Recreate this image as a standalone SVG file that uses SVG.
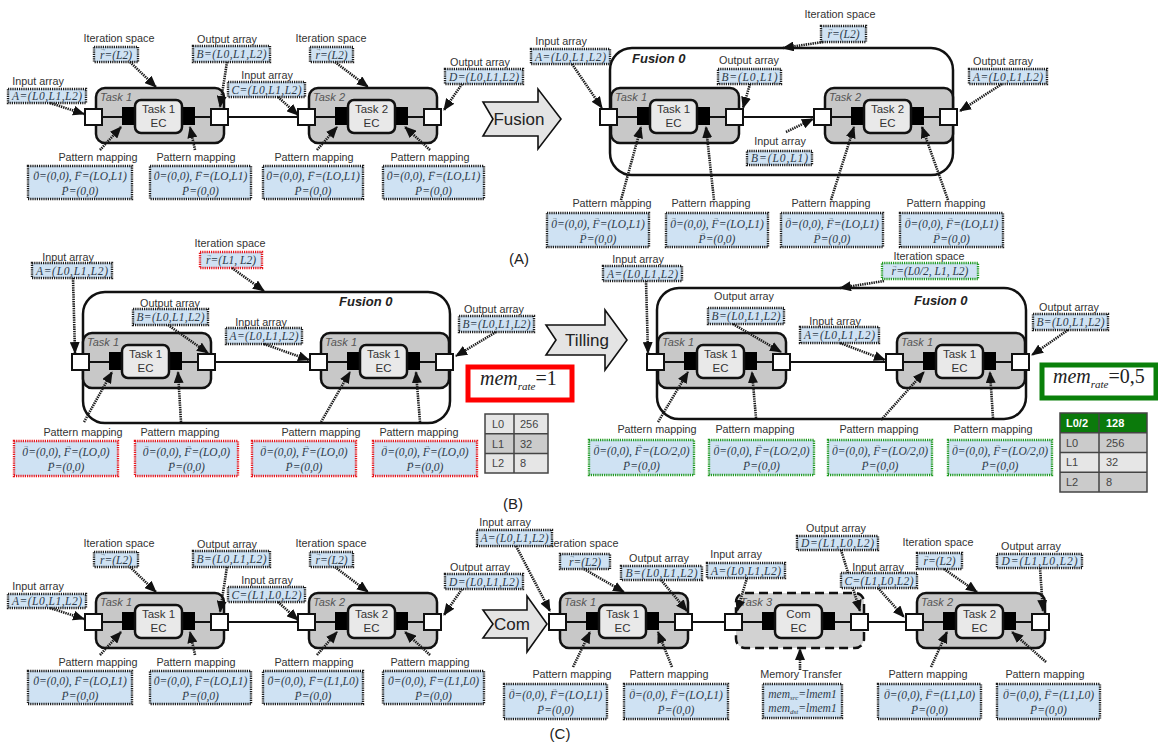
<svg xmlns="http://www.w3.org/2000/svg" width="1158" height="747" viewBox="0 0 1158 747">
<defs>
<marker id="ah" viewBox="0 0 12 10" refX="11" refY="5" markerWidth="12" markerHeight="10" markerUnits="userSpaceOnUse" orient="auto"><path d="M0,0L12,5L0,10z" fill="#111"/></marker>
<style>
.cap{font-family:"Liberation Sans",Arial,sans-serif;font-size:10.8px;fill:#333;text-anchor:middle}
.mt{font-family:"Liberation Serif","DejaVu Serif",serif;font-style:italic;font-size:11.5px;fill:#2e3b4a;text-anchor:middle}
.va{font-size:6px;font-style:normal}
.lb{fill:#cfe2f3;stroke:#1c1c1c;stroke-width:2.4;stroke-dasharray:1.2 1}
.lbr{fill:#cfe2f3;stroke:#e8141a;stroke-width:2.4;stroke-dasharray:1.2 1}
.lbg{fill:#cfe2f3;stroke:#1f9a1f;stroke-width:2.4;stroke-dasharray:1.2 1}
.tb{fill:#c8c8c8;stroke:#111;stroke-width:2.5}
.tbd{fill:#d2d2d2;stroke:#111;stroke-width:2.5;stroke-dasharray:9 5}
.ec{fill:#e9e9e9;stroke:#111;stroke-width:2.5}
.bk{fill:#000}
.pt{fill:#fff;stroke:#111;stroke-width:2}
.tl{stroke:#111;stroke-width:2}
.tt{font-family:"Liberation Sans",Arial,sans-serif;font-style:italic;font-size:11px;fill:#555}
.et{font-family:"Liberation Sans",Arial,sans-serif;font-size:11.5px;fill:#333;text-anchor:middle}
.fu{fill:#fff;stroke:#111;stroke-width:2.5}
.ft{font-family:"Liberation Sans",Arial,sans-serif;font-weight:bold;font-style:italic;font-size:13px;fill:#222}
.ba{fill:#e4e4e4;stroke:#111;stroke-width:1.6}
.bt{font-family:"Liberation Sans",Arial,sans-serif;font-size:17px;fill:#222;text-anchor:middle}
.wire{stroke:#111;stroke-width:2;fill:none}
.cn{fill:none;stroke:#1a1a1a;stroke-width:2.6;stroke-dasharray:1.4 0.9;marker-end:url(#ah)}
.sec{font-family:"Liberation Sans",Arial,sans-serif;font-size:15px;fill:#222;text-anchor:middle}
.tbt{font-family:"Liberation Sans",Arial,sans-serif;font-size:11px;fill:#444}
.tbh{font-family:"Liberation Sans",Arial,sans-serif;font-size:11px;fill:#fff;font-weight:bold}
.mr{font-family:"Liberation Serif","DejaVu Serif",serif;font-size:20px;fill:#222}
</style>
</defs>
<rect width="1158" height="747" fill="#fff"/>

<!-- Fusion containers -->
<g id="ar-fusion"><rect class="fu" x="610" y="48" width="343" height="127" rx="22"/><text class="ft" x="632" y="63">Fusion 0</text></g>
<g id="bl-fusion"><rect class="fu" x="83" y="292" width="367" height="131" rx="22"/><text class="ft" x="339" y="306">Fusion 0</text></g>
<g id="br-fusion"><rect class="fu" x="657" y="288" width="369" height="131" rx="22"/><text class="ft" x="914" y="305">Fusion 0</text></g>

<!-- Block arrows -->
<g id="arrow-fusion"><polygon class="ba" points="483,102 538,102 538,89 561,119 538,149 538,136 483,136 493,119"/><text class="bt" x="519" y="125">Fusion</text></g>
<g id="arrow-tilling"><polygon class="ba" points="546,325 605,325 605,310 627,340 605,370 605,355 546,355 556,340"/><text class="bt" x="587" y="346">Tilling</text></g>
<g id="arrow-com"><polygon class="ba" points="483,610 527,610 527,596 547,624 527,652 527,638 483,638 493,624"/><text class="bt" x="512" y="630">Com</text></g>

<!-- Task nodes -->
<g id="al-task1" transform="translate(96,88)"><rect class="tb" width="128" height="55" rx="9"/><text class="tt" x="4" y="13">Task 1</text><line class="tl" x1="0" y1="29" x2="124" y2="29"/><rect class="bk" x="26" y="19" width="13" height="18"/><rect class="bk" x="86" y="19" width="13" height="18"/><rect class="ec" x="39" y="12" width="47" height="33" rx="6"/><text class="et" x="62.5" y="25">Task 1</text><text class="et" x="62.5" y="39">EC</text><rect class="pt" x="-11" y="21" width="17" height="16"/><rect class="pt" x="115" y="21" width="17" height="16"/></g>
<g id="al-task2" transform="translate(309,88)"><rect class="tb" width="128" height="55" rx="9"/><text class="tt" x="4" y="13">Task 2</text><line class="tl" x1="0" y1="29" x2="124" y2="29"/><rect class="bk" x="26" y="19" width="13" height="18"/><rect class="bk" x="86" y="19" width="13" height="18"/><rect class="ec" x="39" y="12" width="47" height="33" rx="6"/><text class="et" x="62.5" y="25">Task 2</text><text class="et" x="62.5" y="39">EC</text><rect class="pt" x="-11" y="21" width="17" height="16"/><rect class="pt" x="115" y="21" width="17" height="16"/></g>
<g id="ar-task1" transform="translate(611,88)"><rect class="tb" width="128" height="55" rx="9"/><text class="tt" x="4" y="13">Task 1</text><line class="tl" x1="0" y1="29" x2="124" y2="29"/><rect class="bk" x="26" y="19" width="13" height="18"/><rect class="bk" x="86" y="19" width="13" height="18"/><rect class="ec" x="39" y="12" width="47" height="33" rx="6"/><text class="et" x="62.5" y="25">Task 1</text><text class="et" x="62.5" y="39">EC</text><rect class="pt" x="-11" y="21" width="17" height="16"/><rect class="pt" x="115" y="21" width="17" height="16"/></g>
<g id="ar-task2" transform="translate(825,88)"><rect class="tb" width="128" height="55" rx="9"/><text class="tt" x="4" y="13">Task 2</text><line class="tl" x1="0" y1="29" x2="124" y2="29"/><rect class="bk" x="26" y="19" width="13" height="18"/><rect class="bk" x="86" y="19" width="13" height="18"/><rect class="ec" x="39" y="12" width="47" height="33" rx="6"/><text class="et" x="62.5" y="25">Task 2</text><text class="et" x="62.5" y="39">EC</text><rect class="pt" x="-11" y="21" width="17" height="16"/><rect class="pt" x="115" y="21" width="17" height="16"/></g>
<g id="bl-task1a" transform="translate(83,333)"><rect class="tb" width="128" height="55" rx="9"/><text class="tt" x="4" y="13">Task 1</text><line class="tl" x1="0" y1="29" x2="124" y2="29"/><rect class="bk" x="26" y="19" width="13" height="18"/><rect class="bk" x="86" y="19" width="13" height="18"/><rect class="ec" x="39" y="12" width="47" height="33" rx="6"/><text class="et" x="62.5" y="25">Task 1</text><text class="et" x="62.5" y="39">EC</text><rect class="pt" x="-11" y="21" width="17" height="16"/><rect class="pt" x="115" y="21" width="17" height="16"/></g>
<g id="bl-task1b" transform="translate(321,333)"><rect class="tb" width="128" height="55" rx="9"/><text class="tt" x="4" y="13">Task 1</text><line class="tl" x1="0" y1="29" x2="124" y2="29"/><rect class="bk" x="26" y="19" width="13" height="18"/><rect class="bk" x="86" y="19" width="13" height="18"/><rect class="ec" x="39" y="12" width="47" height="33" rx="6"/><text class="et" x="62.5" y="25">Task 1</text><text class="et" x="62.5" y="39">EC</text><rect class="pt" x="-11" y="21" width="17" height="16"/><rect class="pt" x="115" y="21" width="17" height="16"/></g>
<g id="br-task1a" transform="translate(658,333)"><rect class="tb" width="128" height="55" rx="9"/><text class="tt" x="4" y="13">Task 1</text><line class="tl" x1="0" y1="29" x2="124" y2="29"/><rect class="bk" x="26" y="19" width="13" height="18"/><rect class="bk" x="86" y="19" width="13" height="18"/><rect class="ec" x="39" y="12" width="47" height="33" rx="6"/><text class="et" x="62.5" y="25">Task 1</text><text class="et" x="62.5" y="39">EC</text><rect class="pt" x="-11" y="21" width="17" height="16"/><rect class="pt" x="115" y="21" width="17" height="16"/></g>
<g id="br-task1b" transform="translate(897,333)"><rect class="tb" width="128" height="55" rx="9"/><text class="tt" x="4" y="13">Task 1</text><line class="tl" x1="0" y1="29" x2="124" y2="29"/><rect class="bk" x="26" y="19" width="13" height="18"/><rect class="bk" x="86" y="19" width="13" height="18"/><rect class="ec" x="39" y="12" width="47" height="33" rx="6"/><text class="et" x="62.5" y="25">Task 1</text><text class="et" x="62.5" y="39">EC</text><rect class="pt" x="-11" y="21" width="17" height="16"/><rect class="pt" x="115" y="21" width="17" height="16"/></g>
<g id="cl-task1" transform="translate(96,593)"><rect class="tb" width="128" height="55" rx="9"/><text class="tt" x="4" y="13">Task 1</text><line class="tl" x1="0" y1="29" x2="124" y2="29"/><rect class="bk" x="26" y="19" width="13" height="18"/><rect class="bk" x="86" y="19" width="13" height="18"/><rect class="ec" x="39" y="12" width="47" height="33" rx="6"/><text class="et" x="62.5" y="25">Task 1</text><text class="et" x="62.5" y="39">EC</text><rect class="pt" x="-11" y="21" width="17" height="16"/><rect class="pt" x="115" y="21" width="17" height="16"/></g>
<g id="cl-task2" transform="translate(309,593)"><rect class="tb" width="128" height="55" rx="9"/><text class="tt" x="4" y="13">Task 2</text><line class="tl" x1="0" y1="29" x2="124" y2="29"/><rect class="bk" x="26" y="19" width="13" height="18"/><rect class="bk" x="86" y="19" width="13" height="18"/><rect class="ec" x="39" y="12" width="47" height="33" rx="6"/><text class="et" x="62.5" y="25">Task 2</text><text class="et" x="62.5" y="39">EC</text><rect class="pt" x="-11" y="21" width="17" height="16"/><rect class="pt" x="115" y="21" width="17" height="16"/></g>
<g id="cr-task1" transform="translate(560,593)"><rect class="tb" width="128" height="55" rx="9"/><text class="tt" x="4" y="13">Task 1</text><line class="tl" x1="0" y1="29" x2="124" y2="29"/><rect class="bk" x="26" y="19" width="13" height="18"/><rect class="bk" x="86" y="19" width="13" height="18"/><rect class="ec" x="39" y="12" width="47" height="33" rx="6"/><text class="et" x="62.5" y="25">Task 1</text><text class="et" x="62.5" y="39">EC</text><rect class="pt" x="-11" y="21" width="17" height="16"/><rect class="pt" x="115" y="21" width="17" height="16"/></g>
<g id="cr-task3" transform="translate(736,593)"><rect class="tbd" width="128" height="55" rx="9"/><text class="tt" x="4" y="13">Task 3</text><line class="tl" x1="0" y1="29" x2="124" y2="29"/><rect class="bk" x="26" y="19" width="13" height="18"/><rect class="bk" x="86" y="19" width="13" height="18"/><rect class="ec" x="39" y="12" width="47" height="33" rx="6"/><text class="et" x="62.5" y="25">Com</text><text class="et" x="62.5" y="39">EC</text><rect class="pt" x="-11" y="21" width="17" height="16"/><rect class="pt" x="115" y="21" width="17" height="16"/></g>
<g id="cr-task2" transform="translate(917,593)"><rect class="tb" width="128" height="55" rx="9"/><text class="tt" x="4" y="13">Task 2</text><line class="tl" x1="0" y1="29" x2="124" y2="29"/><rect class="bk" x="26" y="19" width="13" height="18"/><rect class="bk" x="86" y="19" width="13" height="18"/><rect class="ec" x="39" y="12" width="47" height="33" rx="6"/><text class="et" x="62.5" y="25">Task 2</text><text class="et" x="62.5" y="39">EC</text><rect class="pt" x="-11" y="21" width="17" height="16"/><rect class="pt" x="115" y="21" width="17" height="16"/></g>

<!-- Labels A-left -->
<g id="al-in-a"><text class="cap" x="38" y="85">Input array</text><rect class="lb" x="8" y="89" width="78" height="14"/><text class="mt" x="47" y="100" textLength="70">A=(L0,L1,L2)</text></g>
<g id="al-it1"><text class="cap" x="119" y="42">Iteration space</text><rect class="lb" x="94" y="47" width="44" height="15"/><text class="mt" x="116" y="58.5">r<tspan class="va" dx="-4.2" dy="-7.5">→</tspan><tspan dx="-1.7" dy="7.5">=(L2)</tspan></text></g>
<g id="al-out-b"><text class="cap" x="227" y="43">Output array</text><rect class="lb" x="193" y="46" width="77" height="16"/><text class="mt" x="231.5" y="58" textLength="70">B=(L0,L1,L2)</text></g>
<g id="al-in-c"><text class="cap" x="267" y="79">Input array</text><rect class="lb" x="228" y="82" width="77" height="15"/><text class="mt" x="266.5" y="93.5" textLength="70">C=(L0,L1,L2)</text></g>
<g id="al-it2"><text class="cap" x="331" y="42">Iteration space</text><rect class="lb" x="310" y="47" width="43" height="15"/><text class="mt" x="331.5" y="58.5">r<tspan class="va" dx="-4.2" dy="-7.5">→</tspan><tspan dx="-1.7" dy="7.5">=(L2)</tspan></text></g>
<g id="al-out-d"><text class="cap" x="480" y="66">Output array</text><rect class="lb" x="445" y="69" width="78" height="15"/><text class="mt" x="484" y="80.5" textLength="70">D=(L0,L1,L2)</text></g>
<g id="al-pm1"><text class="cap" x="98" y="161">Pattern mapping</text><rect class="lb" x="28" y="166" width="104" height="33"/><text class="mt" x="80" y="180">0<tspan class="va" dx="-4.8" dy="-7.5">→</tspan><tspan dx="-1.1" dy="7.5">=(0,0), F</tspan><tspan class="va" dx="-5.4" dy="-7.5">→</tspan><tspan dx="-0.5" dy="7.5">=(LO,L1)</tspan></text><text class="mt" x="80" y="195">P<tspan class="va" dx="-5.4" dy="-7.5">→</tspan><tspan dx="-0.5" dy="7.5">=(0,0)</tspan></text></g>
<g id="al-pm2"><text class="cap" x="196" y="161">Pattern mapping</text><rect class="lb" x="150" y="166" width="101" height="33"/><text class="mt" x="200.5" y="180">0<tspan class="va" dx="-4.8" dy="-7.5">→</tspan><tspan dx="-1.1" dy="7.5">=(0,0), F</tspan><tspan class="va" dx="-5.4" dy="-7.5">→</tspan><tspan dx="-0.5" dy="7.5">=(LO,L1)</tspan></text><text class="mt" x="200.5" y="195">P<tspan class="va" dx="-5.4" dy="-7.5">→</tspan><tspan dx="-0.5" dy="7.5">=(0,0)</tspan></text></g>
<g id="al-pm3"><text class="cap" x="314" y="161">Pattern mapping</text><rect class="lb" x="263" y="166" width="100" height="33"/><text class="mt" x="313" y="180">0<tspan class="va" dx="-4.8" dy="-7.5">→</tspan><tspan dx="-1.1" dy="7.5">=(0,0), F</tspan><tspan class="va" dx="-5.4" dy="-7.5">→</tspan><tspan dx="-0.5" dy="7.5">=(LO,L1)</tspan></text><text class="mt" x="313" y="195">P<tspan class="va" dx="-5.4" dy="-7.5">→</tspan><tspan dx="-0.5" dy="7.5">=(0,0)</tspan></text></g>
<g id="al-pm4"><text class="cap" x="430" y="161">Pattern mapping</text><rect class="lb" x="383" y="166" width="101" height="33"/><text class="mt" x="433.5" y="180">0<tspan class="va" dx="-4.8" dy="-7.5">→</tspan><tspan dx="-1.1" dy="7.5">=(0,0), F</tspan><tspan class="va" dx="-5.4" dy="-7.5">→</tspan><tspan dx="-0.5" dy="7.5">=(LO,L1)</tspan></text><text class="mt" x="433.5" y="195">P<tspan class="va" dx="-5.4" dy="-7.5">→</tspan><tspan dx="-0.5" dy="7.5">=(0,0)</tspan></text></g>

<!-- Labels A-right -->
<g id="ar-it"><text class="cap" x="840" y="18">Iteration space</text><rect class="lb" x="821" y="26" width="45" height="16"/><text class="mt" x="843.5" y="38">r<tspan class="va" dx="-4.2" dy="-7.5">→</tspan><tspan dx="-1.7" dy="7.5">=(L2)</tspan></text></g>
<g id="ar-in-a"><text class="cap" x="561" y="45">Input array</text><rect class="lb" x="531" y="49" width="79" height="15"/><text class="mt" x="570.5" y="60.5" textLength="71">A=(L0,L1,L2)</text></g>
<g id="ar-out-b"><text class="cap" x="749" y="64">Output array</text><rect class="lb" x="718" y="69" width="63" height="15"/><text class="mt" x="749.5" y="80.5" textLength="56">B=(L0,L1)</text></g>
<g id="ar-in-b"><text class="cap" x="780" y="145">Input array</text><rect class="lb" x="747" y="151" width="65" height="14"/><text class="mt" x="779.5" y="162" textLength="57">B=(L0,L1)</text></g>
<g id="ar-out-a"><text class="cap" x="1003" y="65">Output array</text><rect class="lb" x="969" y="69" width="78" height="15"/><text class="mt" x="1008" y="80.5" textLength="70">A=(L0,L1,L2)</text></g>
<g id="ar-pm1"><text class="cap" x="612" y="207">Pattern mapping</text><rect class="lb" x="547" y="213" width="102" height="34"/><text class="mt" x="598" y="227.5">0<tspan class="va" dx="-4.8" dy="-7.5">→</tspan><tspan dx="-1.1" dy="7.5">=(0,0), F</tspan><tspan class="va" dx="-5.4" dy="-7.5">→</tspan><tspan dx="-0.5" dy="7.5">=(LO,L1)</tspan></text><text class="mt" x="598" y="242.5">P<tspan class="va" dx="-5.4" dy="-7.5">→</tspan><tspan dx="-0.5" dy="7.5">=(0,0)</tspan></text></g>
<g id="ar-pm2"><text class="cap" x="711" y="207">Pattern mapping</text><rect class="lb" x="666" y="213" width="102" height="34"/><text class="mt" x="717" y="227.5">0<tspan class="va" dx="-4.8" dy="-7.5">→</tspan><tspan dx="-1.1" dy="7.5">=(0,0), F</tspan><tspan class="va" dx="-5.4" dy="-7.5">→</tspan><tspan dx="-0.5" dy="7.5">=(LO,L1)</tspan></text><text class="mt" x="717" y="242.5">P<tspan class="va" dx="-5.4" dy="-7.5">→</tspan><tspan dx="-0.5" dy="7.5">=(0,0)</tspan></text></g>
<g id="ar-pm3"><text class="cap" x="831" y="207">Pattern mapping</text><rect class="lb" x="781" y="213" width="102" height="34"/><text class="mt" x="832" y="227.5">0<tspan class="va" dx="-4.8" dy="-7.5">→</tspan><tspan dx="-1.1" dy="7.5">=(0,0), F</tspan><tspan class="va" dx="-5.4" dy="-7.5">→</tspan><tspan dx="-0.5" dy="7.5">=(LO,L1)</tspan></text><text class="mt" x="832" y="242.5">P<tspan class="va" dx="-5.4" dy="-7.5">→</tspan><tspan dx="-0.5" dy="7.5">=(0,0)</tspan></text></g>
<g id="ar-pm4"><text class="cap" x="946" y="207">Pattern mapping</text><rect class="lb" x="900" y="213" width="103" height="34"/><text class="mt" x="951.5" y="227.5">0<tspan class="va" dx="-4.8" dy="-7.5">→</tspan><tspan dx="-1.1" dy="7.5">=(0,0), F</tspan><tspan class="va" dx="-5.4" dy="-7.5">→</tspan><tspan dx="-0.5" dy="7.5">=(LO,L1)</tspan></text><text class="mt" x="951.5" y="242.5">P<tspan class="va" dx="-5.4" dy="-7.5">→</tspan><tspan dx="-0.5" dy="7.5">=(0,0)</tspan></text></g>

<!-- Labels B-left -->
<g id="bl-it"><text class="cap" x="230" y="247">Iteration space</text><rect class="lbr" x="200" y="252" width="62" height="16"/><text class="mt" x="231" y="264">r<tspan class="va" dx="-4.2" dy="-7.5">→</tspan><tspan dx="-1.7" dy="7.5">=(L1, L2)</tspan></text></g>
<g id="bl-in-a"><text class="cap" x="68" y="261">Input array</text><rect class="lb" x="32" y="263" width="80" height="15"/><text class="mt" x="72" y="274.5" textLength="72">A=(L0,L1,L2)</text></g>
<g id="bl-out-b"><text class="cap" x="170" y="307">Output array</text><rect class="lb" x="133" y="309" width="75" height="16"/><text class="mt" x="170.5" y="321" textLength="68">B=(L0,L1,L2)</text></g>
<g id="bl-in-a2"><text class="cap" x="261" y="326">Input array</text><rect class="lb" x="226" y="328" width="76" height="16"/><text class="mt" x="264" y="340" textLength="69">A=(L0,L1,L2)</text></g>
<g id="bl-out-b2"><text class="cap" x="494" y="313">Output array</text><rect class="lb" x="459" y="316" width="75" height="16"/><text class="mt" x="496.5" y="328" textLength="68">B=(L0,L1,L2)</text></g>
<g id="bl-pm1"><text class="cap" x="83" y="436">Pattern mapping</text><rect class="lbr" x="14" y="441" width="104" height="35"/><text class="mt" x="66" y="455.5">0<tspan class="va" dx="-4.8" dy="-7.5">→</tspan><tspan dx="-1.1" dy="7.5">=(0,0), F</tspan><tspan class="va" dx="-5.4" dy="-7.5">→</tspan><tspan dx="-0.5" dy="7.5">=(LO,0)</tspan></text><text class="mt" x="66" y="471">P<tspan class="va" dx="-5.4" dy="-7.5">→</tspan><tspan dx="-0.5" dy="7.5">=(0,0)</tspan></text></g>
<g id="bl-pm2"><text class="cap" x="180" y="436">Pattern mapping</text><rect class="lbr" x="135" y="441" width="103" height="35"/><text class="mt" x="186.5" y="455.5">0<tspan class="va" dx="-4.8" dy="-7.5">→</tspan><tspan dx="-1.1" dy="7.5">=(0,0), F</tspan><tspan class="va" dx="-5.4" dy="-7.5">→</tspan><tspan dx="-0.5" dy="7.5">=(LO,0)</tspan></text><text class="mt" x="186.5" y="471">P<tspan class="va" dx="-5.4" dy="-7.5">→</tspan><tspan dx="-0.5" dy="7.5">=(0,0)</tspan></text></g>
<g id="bl-pm3"><text class="cap" x="321" y="436">Pattern mapping</text><rect class="lbr" x="252" y="441" width="104" height="35"/><text class="mt" x="304" y="455.5">0<tspan class="va" dx="-4.8" dy="-7.5">→</tspan><tspan dx="-1.1" dy="7.5">=(0,0), F</tspan><tspan class="va" dx="-5.4" dy="-7.5">→</tspan><tspan dx="-0.5" dy="7.5">=(LO,0)</tspan></text><text class="mt" x="304" y="471">P<tspan class="va" dx="-5.4" dy="-7.5">→</tspan><tspan dx="-0.5" dy="7.5">=(0,0)</tspan></text></g>
<g id="bl-pm4"><text class="cap" x="419" y="436">Pattern mapping</text><rect class="lbr" x="373" y="441" width="104" height="35"/><text class="mt" x="425" y="455.5">0<tspan class="va" dx="-4.8" dy="-7.5">→</tspan><tspan dx="-1.1" dy="7.5">=(0,0), F</tspan><tspan class="va" dx="-5.4" dy="-7.5">→</tspan><tspan dx="-0.5" dy="7.5">=(LO,0)</tspan></text><text class="mt" x="425" y="471">P<tspan class="va" dx="-5.4" dy="-7.5">→</tspan><tspan dx="-0.5" dy="7.5">=(0,0)</tspan></text></g>

<!-- Labels B-right -->
<g id="br-in-a"><text class="cap" x="638" y="263">Input array</text><rect class="lb" x="603" y="266" width="79" height="15"/><text class="mt" x="642.5" y="277.5" textLength="71">A=(L0,L1,L2)</text></g>
<g id="br-it"><text class="cap" x="929" y="260">Iteration space</text><rect class="lbg" x="882" y="263" width="96" height="16"/><text class="mt" x="930" y="275">r<tspan class="va" dx="-4.2" dy="-7.5">→</tspan><tspan dx="-1.7" dy="7.5">=(L0/2, L1, L2)</tspan></text></g>
<g id="br-out-b"><text class="cap" x="744" y="300">Output array</text><rect class="lb" x="708" y="308" width="76" height="16"/><text class="mt" x="746" y="320" textLength="69">B=(L0,L1,L2)</text></g>
<g id="br-in-a2"><text class="cap" x="835" y="325">Input array</text><rect class="lb" x="800" y="327" width="79" height="16"/><text class="mt" x="839.5" y="339" textLength="71">A=(L0,L1,L2)</text></g>
<g id="br-out-b2"><text class="cap" x="1069" y="311">Output array</text><rect class="lb" x="1033" y="314" width="75" height="16"/><text class="mt" x="1070.5" y="326" textLength="68">B=(L0,L1,L2)</text></g>
<g id="br-pm1"><text class="cap" x="657" y="433">Pattern mapping</text><rect class="lbg" x="589" y="440" width="105" height="35"/><text class="mt" x="641.5" y="454.5">0<tspan class="va" dx="-4.8" dy="-7.5">→</tspan><tspan dx="-1.1" dy="7.5">=(0,0), F</tspan><tspan class="va" dx="-5.4" dy="-7.5">→</tspan><tspan dx="-0.5" dy="7.5">=(LO/2,0)</tspan></text><text class="mt" x="641.5" y="470">P<tspan class="va" dx="-5.4" dy="-7.5">→</tspan><tspan dx="-0.5" dy="7.5">=(0,0)</tspan></text></g>
<g id="br-pm2"><text class="cap" x="755" y="433">Pattern mapping</text><rect class="lbg" x="709" y="440" width="105" height="35"/><text class="mt" x="761.5" y="454.5">0<tspan class="va" dx="-4.8" dy="-7.5">→</tspan><tspan dx="-1.1" dy="7.5">=(0,0), F</tspan><tspan class="va" dx="-5.4" dy="-7.5">→</tspan><tspan dx="-0.5" dy="7.5">=(LO/2,0)</tspan></text><text class="mt" x="761.5" y="470">P<tspan class="va" dx="-5.4" dy="-7.5">→</tspan><tspan dx="-0.5" dy="7.5">=(0,0)</tspan></text></g>
<g id="br-pm3"><text class="cap" x="879" y="433">Pattern mapping</text><rect class="lbg" x="828" y="440" width="104" height="35"/><text class="mt" x="880" y="454.5">0<tspan class="va" dx="-4.8" dy="-7.5">→</tspan><tspan dx="-1.1" dy="7.5">=(0,0), F</tspan><tspan class="va" dx="-5.4" dy="-7.5">→</tspan><tspan dx="-0.5" dy="7.5">=(LO/2,0)</tspan></text><text class="mt" x="880" y="470">P<tspan class="va" dx="-5.4" dy="-7.5">→</tspan><tspan dx="-0.5" dy="7.5">=(0,0)</tspan></text></g>
<g id="br-pm4"><text class="cap" x="993" y="433">Pattern mapping</text><rect class="lbg" x="948" y="440" width="104" height="35"/><text class="mt" x="1000" y="454.5">0<tspan class="va" dx="-4.8" dy="-7.5">→</tspan><tspan dx="-1.1" dy="7.5">=(0,0), F</tspan><tspan class="va" dx="-5.4" dy="-7.5">→</tspan><tspan dx="-0.5" dy="7.5">=(LO/2,0)</tspan></text><text class="mt" x="1000" y="470">P<tspan class="va" dx="-5.4" dy="-7.5">→</tspan><tspan dx="-0.5" dy="7.5">=(0,0)</tspan></text></g>

<!-- Labels C-left -->
<g id="cl-in-a"><text class="cap" x="38" y="590">Input array</text><rect class="lb" x="8" y="594" width="78" height="14"/><text class="mt" x="47" y="605" textLength="70">A=(L0,L1,L2)</text></g>
<g id="cl-it1"><text class="cap" x="119" y="547">Iteration space</text><rect class="lb" x="94" y="552" width="44" height="15"/><text class="mt" x="116" y="563.5">r<tspan class="va" dx="-4.2" dy="-7.5">→</tspan><tspan dx="-1.7" dy="7.5">=(L2)</tspan></text></g>
<g id="cl-out-b"><text class="cap" x="227" y="548">Output array</text><rect class="lb" x="193" y="551" width="77" height="16"/><text class="mt" x="231.5" y="563" textLength="70">B=(L0,L1,L2)</text></g>
<g id="cl-in-c"><text class="cap" x="267" y="584">Input array</text><rect class="lb" x="228" y="587" width="77" height="15"/><text class="mt" x="266.5" y="598.5" textLength="70">C=(L1,L0,L2)</text></g>
<g id="cl-it2"><text class="cap" x="331" y="547">Iteration space</text><rect class="lb" x="310" y="552" width="43" height="15"/><text class="mt" x="331.5" y="563.5">r<tspan class="va" dx="-4.2" dy="-7.5">→</tspan><tspan dx="-1.7" dy="7.5">=(L2)</tspan></text></g>
<g id="cl-out-d"><text class="cap" x="480" y="571">Output array</text><rect class="lb" x="445" y="574" width="78" height="15"/><text class="mt" x="484" y="585.5" textLength="70">D=(L0,L1,L2)</text></g>
<g id="cl-pm1"><text class="cap" x="98" y="666">Pattern mapping</text><rect class="lb" x="28" y="671" width="104" height="33"/><text class="mt" x="80" y="685">0<tspan class="va" dx="-4.8" dy="-7.5">→</tspan><tspan dx="-1.1" dy="7.5">=(0,0), F</tspan><tspan class="va" dx="-5.4" dy="-7.5">→</tspan><tspan dx="-0.5" dy="7.5">=(LO,L1)</tspan></text><text class="mt" x="80" y="700">P<tspan class="va" dx="-5.4" dy="-7.5">→</tspan><tspan dx="-0.5" dy="7.5">=(0,0)</tspan></text></g>
<g id="cl-pm2"><text class="cap" x="196" y="666">Pattern mapping</text><rect class="lb" x="150" y="671" width="101" height="33"/><text class="mt" x="200.5" y="685">0<tspan class="va" dx="-4.8" dy="-7.5">→</tspan><tspan dx="-1.1" dy="7.5">=(0,0), F</tspan><tspan class="va" dx="-5.4" dy="-7.5">→</tspan><tspan dx="-0.5" dy="7.5">=(LO,L1)</tspan></text><text class="mt" x="200.5" y="700">P<tspan class="va" dx="-5.4" dy="-7.5">→</tspan><tspan dx="-0.5" dy="7.5">=(0,0)</tspan></text></g>
<g id="cl-pm3"><text class="cap" x="314" y="666">Pattern mapping</text><rect class="lb" x="263" y="671" width="100" height="33"/><text class="mt" x="313" y="685">0<tspan class="va" dx="-4.8" dy="-7.5">→</tspan><tspan dx="-1.1" dy="7.5">=(0,0), F</tspan><tspan class="va" dx="-5.4" dy="-7.5">→</tspan><tspan dx="-0.5" dy="7.5">=(L1,L0)</tspan></text><text class="mt" x="313" y="700">P<tspan class="va" dx="-5.4" dy="-7.5">→</tspan><tspan dx="-0.5" dy="7.5">=(0,0)</tspan></text></g>
<g id="cl-pm4"><text class="cap" x="430" y="666">Pattern mapping</text><rect class="lb" x="383" y="671" width="101" height="33"/><text class="mt" x="433.5" y="685">0<tspan class="va" dx="-4.8" dy="-7.5">→</tspan><tspan dx="-1.1" dy="7.5">=(0,0), F</tspan><tspan class="va" dx="-5.4" dy="-7.5">→</tspan><tspan dx="-0.5" dy="7.5">=(L1,L0)</tspan></text><text class="mt" x="433.5" y="700">P<tspan class="va" dx="-5.4" dy="-7.5">→</tspan><tspan dx="-0.5" dy="7.5">=(0,0)</tspan></text></g>

<!-- Labels C-right -->
<g id="cr-it1"><text class="cap" x="583" y="547">Iteration space</text><rect class="lb" x="560" y="554" width="50" height="15"/><text class="mt" x="585" y="565.5">r<tspan class="va" dx="-4.2" dy="-7.5">→</tspan><tspan dx="-1.7" dy="7.5">=(L2)</tspan></text></g>
<g id="cr-in-a"><text class="cap" x="505" y="526">Input array</text><rect class="lb" x="477" y="530" width="75" height="16"/><text class="mt" x="514.5" y="542" textLength="68">A=(L0,L1,L2)</text></g>
<g id="cr-out-b"><text class="cap" x="659" y="562">Output array</text><rect class="lb" x="621" y="566" width="81" height="14"/><text class="mt" x="661.5" y="577" textLength="72">B=(L0,L1,L2)</text></g>
<g id="cr-in-a3"><text class="cap" x="736" y="558">Input array</text><rect class="lb" x="707" y="563" width="78" height="15"/><text class="mt" x="746" y="574.5" textLength="70">A=(L0,L1,L2)</text></g>
<g id="cr-out-d3"><text class="cap" x="836" y="532">Output array</text><rect class="lb" x="797" y="536" width="81" height="14"/><text class="mt" x="837.5" y="547" textLength="73">D=(L1,L0,L2)</text></g>
<g id="cr-it2"><text class="cap" x="938" y="546">Iteration space</text><rect class="lb" x="917" y="553" width="45" height="16"/><text class="mt" x="939.5" y="565">r<tspan class="va" dx="-4.2" dy="-7.5">→</tspan><tspan dx="-1.7" dy="7.5">=(L2)</tspan></text></g>
<g id="cr-out-d2"><text class="cap" x="1031" y="550">Output array</text><rect class="lb" x="997" y="554" width="85" height="14"/><text class="mt" x="1039.5" y="565" textLength="76">D=(L1,L0,L2)</text></g>
<g id="cr-mem"><text class="cap" x="801" y="678">Memory Transfer</text><rect class="lb" x="763" y="684" width="79" height="34"/><text class="mt" x="802.5" y="698" font-size="10">mem<tspan font-size="7" dy="2">src</tspan><tspan dy="-2">=lmem1</tspan></text><text class="mt" x="802.5" y="712" font-size="10">mem<tspan font-size="7" dy="2">dst</tspan><tspan dy="-2">=lmem1</tspan></text></g>
<g id="cr-pm1"><text class="cap" x="572" y="678">Pattern mapping</text><rect class="lb" x="504" y="684" width="103" height="35"/><text class="mt" x="555.5" y="698.5">0<tspan class="va" dx="-4.8" dy="-7.5">→</tspan><tspan dx="-1.1" dy="7.5">=(0,0), F</tspan><tspan class="va" dx="-5.4" dy="-7.5">→</tspan><tspan dx="-0.5" dy="7.5">=(LO,L1)</tspan></text><text class="mt" x="555.5" y="714">P<tspan class="va" dx="-5.4" dy="-7.5">→</tspan><tspan dx="-0.5" dy="7.5">=(0,0)</tspan></text></g>
<g id="cr-pm2"><text class="cap" x="669" y="678">Pattern mapping</text><rect class="lb" x="624" y="684" width="104" height="35"/><text class="mt" x="676" y="698.5">0<tspan class="va" dx="-4.8" dy="-7.5">→</tspan><tspan dx="-1.1" dy="7.5">=(0,0), F</tspan><tspan class="va" dx="-5.4" dy="-7.5">→</tspan><tspan dx="-0.5" dy="7.5">=(LO,L1)</tspan></text><text class="mt" x="676" y="714">P<tspan class="va" dx="-5.4" dy="-7.5">→</tspan><tspan dx="-0.5" dy="7.5">=(0,0)</tspan></text></g>
<g id="cr-pm3"><text class="cap" x="928" y="678">Pattern mapping</text><rect class="lb" x="878" y="684" width="103" height="35"/><text class="mt" x="929.5" y="698.5">0<tspan class="va" dx="-4.8" dy="-7.5">→</tspan><tspan dx="-1.1" dy="7.5">=(0,0), F</tspan><tspan class="va" dx="-5.4" dy="-7.5">→</tspan><tspan dx="-0.5" dy="7.5">=(L1,L0)</tspan></text><text class="mt" x="929.5" y="714">P<tspan class="va" dx="-5.4" dy="-7.5">→</tspan><tspan dx="-0.5" dy="7.5">=(0,0)</tspan></text></g>
<g id="cr-pm4"><text class="cap" x="1045" y="678">Pattern mapping</text><rect class="lb" x="997" y="684" width="103" height="35"/><text class="mt" x="1048.5" y="698.5">0<tspan class="va" dx="-4.8" dy="-7.5">→</tspan><tspan dx="-1.1" dy="7.5">=(0,0), F</tspan><tspan class="va" dx="-5.4" dy="-7.5">→</tspan><tspan dx="-0.5" dy="7.5">=(L1,L0)</tspan></text><text class="mt" x="1048.5" y="714">P<tspan class="va" dx="-5.4" dy="-7.5">→</tspan><tspan dx="-0.5" dy="7.5">=(0,0)</tspan></text></g>

<!-- mem rate boxes and tables -->
<g id="memrate-1"><rect x="468" y="367" width="104" height="33" fill="#fff" stroke="#ff0000" stroke-width="5"/><text class="mr" x="480" y="385"><tspan font-style="italic">mem</tspan><tspan font-style="italic" font-size="11" dy="5">rate</tspan><tspan dy="-5">=1</tspan></text></g>
<g id="memrate-05"><rect x="1042" y="365" width="114" height="33" fill="#fff" stroke="#0a800a" stroke-width="5"/><text class="mr" x="1053" y="383"><tspan font-style="italic">mem</tspan><tspan font-style="italic" font-size="11" dy="5">rate</tspan><tspan dy="-5">=0,5</tspan></text></g>
<g id="table-1">
<rect x="485" y="414" width="63" height="19.7" fill="#e6e6e6"/><rect x="485" y="433.7" width="63" height="19.7" fill="#cbcbcb"/><rect x="485" y="453.4" width="63" height="19.6" fill="#e6e6e6"/>
<rect x="485" y="414" width="63" height="59" fill="none" stroke="#444" stroke-width="1.5"/>
<path d="M514,414V473M485,433.7H548M485,453.4H548" stroke="#444" stroke-width="1.5"/>
<text class="tbt" x="492" y="428">L0</text><text class="tbt" x="520" y="428">256</text>
<text class="tbt" x="492" y="448">L1</text><text class="tbt" x="520" y="448">32</text>
<text class="tbt" x="492" y="467">L2</text><text class="tbt" x="520" y="467">8</text>
</g>
<g id="table-2">
<rect x="1060" y="413" width="87" height="19.75" fill="#0b7a0b"/><rect x="1060" y="432.75" width="87" height="19.75" fill="#cbcbcb"/><rect x="1060" y="452.5" width="87" height="19.75" fill="#e6e6e6"/><rect x="1060" y="472.25" width="87" height="19.75" fill="#cbcbcb"/>
<rect x="1060" y="413" width="87" height="79" fill="none" stroke="#444" stroke-width="1.5"/>
<path d="M1099,413V492M1060,432.75H1147M1060,452.5H1147M1060,472.25H1147" stroke="#444" stroke-width="1.5"/>
<text class="tbh" x="1066" y="427">L0/2</text><text class="tbh" x="1106" y="427">128</text>
<text class="tbt" x="1066" y="447">L0</text><text class="tbt" x="1106" y="447">256</text>
<text class="tbt" x="1066" y="466">L1</text><text class="tbt" x="1106" y="466">32</text>
<text class="tbt" x="1066" y="486">L2</text><text class="tbt" x="1106" y="486">8</text>
</g>

<!-- Connectors -->
<g id="connectors">
<line class="wire" x1="228" y1="117" x2="298" y2="117"/>
<line class="wire" x1="743" y1="117" x2="814" y2="117"/>
<line class="wire" x1="215" y1="362" x2="310" y2="362"/>
<line class="wire" x1="790" y1="362" x2="886" y2="362"/>
<line class="wire" x1="228" y1="622" x2="298" y2="622"/>
<line class="wire" x1="692" y1="622" x2="725" y2="622"/>
<line class="wire" x1="868" y1="622" x2="906" y2="622"/>

<line class="cn" x1="50" y1="103" x2="84" y2="114"/>
<line class="cn" x1="130" y1="62" x2="156" y2="87"/>
<line class="cn" x1="227" y1="62" x2="220" y2="107"/>
<line class="cn" x1="278" y1="97" x2="298" y2="115"/>
<line class="cn" x1="335" y1="62" x2="368" y2="87"/>
<line class="cn" x1="462" y1="84" x2="444" y2="110"/>
<line class="cn" x1="100" y1="150" x2="121" y2="127"/>
<line class="cn" x1="195" y1="150" x2="190" y2="127"/>
<line class="cn" x1="317" y1="150" x2="337" y2="127"/>
<line class="cn" x1="430" y1="150" x2="405" y2="127"/>

<line class="cn" x1="823" y1="42" x2="783" y2="48"/>
<line class="cn" x1="572" y1="64" x2="602" y2="108"/>
<line class="cn" x1="750" y1="84" x2="743" y2="108"/>
<line class="cn" x1="786" y1="132" x2="813" y2="119"/>
<line class="cn" x1="1002" y1="84" x2="960" y2="111"/>
<line class="cn" x1="621" y1="200" x2="641" y2="127"/>
<line class="cn" x1="714" y1="200" x2="706" y2="127"/>
<line class="cn" x1="831" y1="200" x2="854" y2="127"/>
<line class="cn" x1="948" y1="200" x2="922" y2="127"/>

<line class="cn" x1="232" y1="268" x2="264" y2="291"/>
<line class="cn" x1="73" y1="278" x2="75" y2="353"/>
<line class="cn" x1="168" y1="325" x2="208" y2="353"/>
<line class="cn" x1="264" y1="344" x2="309" y2="360"/>
<line class="cn" x1="496" y1="332" x2="456" y2="356"/>
<line class="cn" x1="84" y1="422" x2="112" y2="372"/>
<line class="cn" x1="181" y1="422" x2="178" y2="372"/>
<line class="cn" x1="321" y1="422" x2="350" y2="372"/>
<line class="cn" x1="420" y1="422" x2="416" y2="372"/>

<line class="cn" x1="884" y1="281" x2="840" y2="288"/>
<line class="cn" x1="646" y1="281" x2="648" y2="353"/>
<line class="cn" x1="733" y1="324" x2="781" y2="352"/>
<line class="cn" x1="840" y1="343" x2="885" y2="360"/>
<line class="cn" x1="1068" y1="330" x2="1032" y2="355"/>
<line class="cn" x1="658" y1="422" x2="688" y2="372"/>
<line class="cn" x1="756" y1="418" x2="752" y2="372"/>
<line class="cn" x1="881" y1="420" x2="924" y2="372"/>
<line class="cn" x1="993" y1="418" x2="990" y2="372"/>

<line class="cn" x1="50" y1="608" x2="84" y2="619"/>
<line class="cn" x1="130" y1="567" x2="156" y2="592"/>
<line class="cn" x1="227" y1="567" x2="220" y2="612"/>
<line class="cn" x1="278" y1="602" x2="298" y2="620"/>
<line class="cn" x1="335" y1="567" x2="368" y2="592"/>
<line class="cn" x1="462" y1="589" x2="444" y2="615"/>
<line class="cn" x1="100" y1="655" x2="121" y2="632"/>
<line class="cn" x1="195" y1="655" x2="190" y2="632"/>
<line class="cn" x1="317" y1="655" x2="337" y2="632"/>
<line class="cn" x1="430" y1="655" x2="405" y2="632"/>

<line class="cn" x1="516" y1="546" x2="550" y2="611"/>
<line class="cn" x1="584" y1="569" x2="624" y2="592"/>
<line class="cn" x1="661" y1="580" x2="687" y2="611"/>
<line class="cn" x1="747" y1="578" x2="737" y2="611"/>
<line class="cn" x1="841" y1="550" x2="860" y2="611"/>
<line class="cn" x1="878" y1="588" x2="904" y2="617"/>
<line class="cn" x1="944" y1="569" x2="977" y2="592"/>
<line class="cn" x1="1040" y1="568" x2="1043" y2="611"/>
<line class="cn" x1="800" y1="670" x2="800" y2="649"/>
<line class="cn" x1="573" y1="667" x2="590" y2="632"/>
<line class="cn" x1="672" y1="667" x2="658" y2="632"/>
<line class="cn" x1="931" y1="667" x2="947" y2="632"/>
<line class="cn" x1="1046" y1="662" x2="1012" y2="632"/>
</g>

<!-- label drawn over the connector that passes behind it -->
<g id="cr-in-c"><text class="cap" x="878" y="571">Input array</text><rect class="lb" x="841" y="573" width="76" height="15"/><text class="mt" x="879" y="584.5" textLength="69">C=(L1,L0,L2)</text></g>

<!-- Section labels -->
<text class="sec" x="519" y="264">(A)</text>
<text class="sec" x="513" y="509">(B)</text>
<text class="sec" x="560" y="739">(C)</text>
</svg>
